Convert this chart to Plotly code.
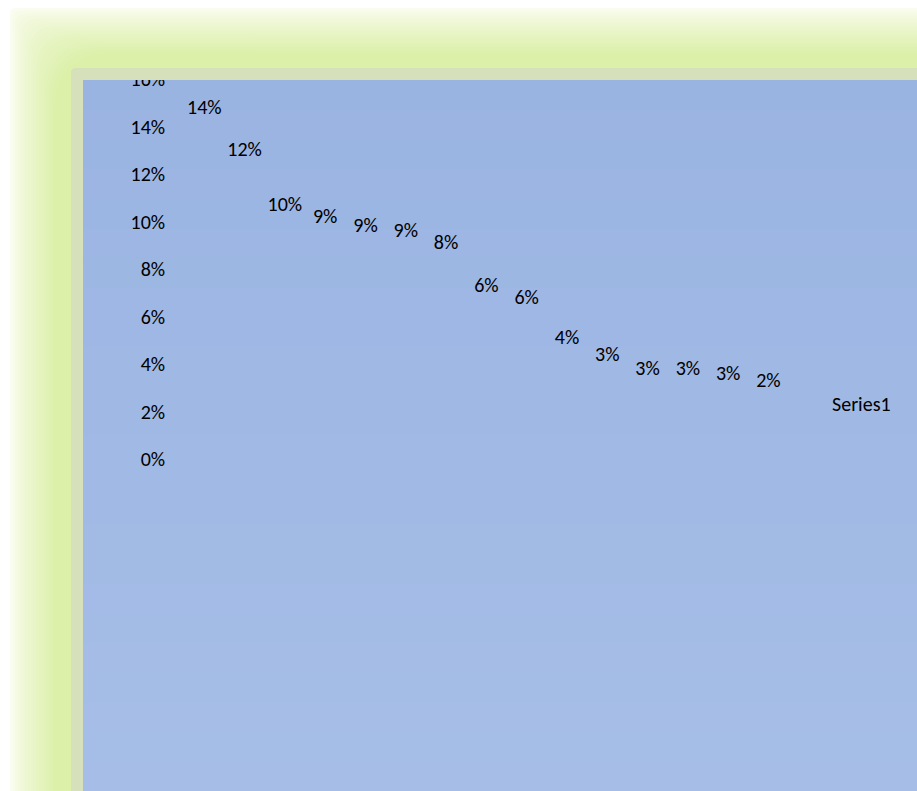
import plotly.graph_objects as go

# ---- data ----
categories = [str(i) for i in range(1, 16)]
values = [0.138, 0.120, 0.097, 0.092, 0.088, 0.086, 0.081, 0.063, 0.058,
          0.041, 0.034, 0.028, 0.028, 0.026, 0.023]
series_name = "Series1"
tick_vals = [0, 0.02, 0.04, 0.06, 0.08, 0.10, 0.12, 0.14, 0.16]

W, H = 917, 791
FONT = "Carlito, Calibri, Lato, sans-serif"
FS = 20


def px(x):
    return x / W


def py(y):
    return 1 - y / H


def lerp(c1, c2, t):
    return "#%02x%02x%02x" % tuple(int(round(a + (b - a) * t)) for a, b in zip(c1, c2))


shapes = []

# green glow frame (nested rounded rects, light -> green)
outer = (250, 252, 240)
green = (220, 240, 170)
N = 18
for k in range(N):
    t = (k / (N - 1)) ** 0.8
    o = k * 2.6
    x0, y0 = 10 + o, 8 + o
    r = 6 + k * 3.2
    x1, y1 = W + 50, H + 50
    path = (f"M {px(x0)},{py(y0 + r)} Q {px(x0)},{py(y0)} {px(x0 + r)},{py(y0)} "
            f"L {px(x1)},{py(y0)} L {px(x1)},{py(y1)} L {px(x0)},{py(y1)} Z")
    shapes.append(dict(type="path", xref="paper", yref="paper", path=path,
                       fillcolor=lerp(outer, green, t), line=dict(width=0), layer="below"))

# gray inner band (L-shape, rounded corner) drawn above so it clips the top tick label
gx0, gy0, r = 71, 68, 5
band = (f"M {px(gx0)},{py(gy0 + r)} Q {px(gx0)},{py(gy0)} {px(gx0 + r)},{py(gy0)} "
        f"L {px(W + 5)},{py(gy0)} L {px(W + 5)},{py(80)} L {px(83)},{py(80)} "
        f"L {px(83)},{py(H + 5)} L {px(gx0)},{py(H + 5)} Z")
shapes.append(dict(type="path", xref="paper", yref="paper", path=band,
                   fillcolor="#d6e1bc", line=dict(width=0), layer="above"))

# blue panel with slight vertical gradient
top_c, bot_c = (154, 180, 226), (166, 190, 231)
NB = 24
for k in range(NB):
    ya = 80 + (H - 80) * k / NB
    yb = 80 + (H - 80) * (k + 1) / NB + 1
    shapes.append(dict(type="rect", xref="paper", yref="paper",
                       x0=px(83), x1=1.01, y0=py(yb), y1=py(ya),
                       fillcolor=lerp(top_c, bot_c, k / (NB - 1)),
                       line=dict(width=0), layer="below"))

fig = go.Figure()
fig.add_trace(go.Scatter(
    x=categories, y=values, mode="markers+text",
    marker=dict(size=19, color="rgba(0,0,0,0)"),
    texttemplate="%{y:.0%}", textposition="top center",
    textfont=dict(family=FONT, size=FS, color="#000000"),
    showlegend=False, hoverinfo="skip", cliponaxis=False,
))
fig.add_trace(go.Scatter(
    x=categories, y=values, mode="lines", name=series_name,
    line=dict(color="rgba(0,0,0,0)", width=0), hoverinfo="skip",
))

y_bottom, y_top = 459.2, 78.0
fig.update_layout(
    width=W, height=H,
    margin=dict(l=0, r=0, t=0, b=0, autoexpand=False),
    paper_bgcolor="white", plot_bgcolor="rgba(0,0,0,0)",
    shapes=shapes,
    font=dict(family=FONT, size=FS, color="#000000"),
    xaxis=dict(domain=[184.15 / W, 788.6 / W], type="category", automargin=False,
               range=[-0.5, 14.5], showticklabels=False, showgrid=False,
               zeroline=False, showline=False, ticks=""),
    yaxis=dict(domain=[py(y_bottom), py(y_top)], range=[0, 0.1605], automargin=False,
               tickvals=tick_vals, tickformat=".0%", showgrid=False,
               zeroline=False, showline=False, ticks="", ticklabelstandoff=18,
               tickfont=dict(family=FONT, size=FS, color="#000000")),
    legend=dict(x=(832 - 40) / W, xanchor="left", y=py(403), yanchor="middle",
                bgcolor="rgba(0,0,0,0)", font=dict(family=FONT, size=FS, color="#000000")),
)

fig.write_html("out.html")
